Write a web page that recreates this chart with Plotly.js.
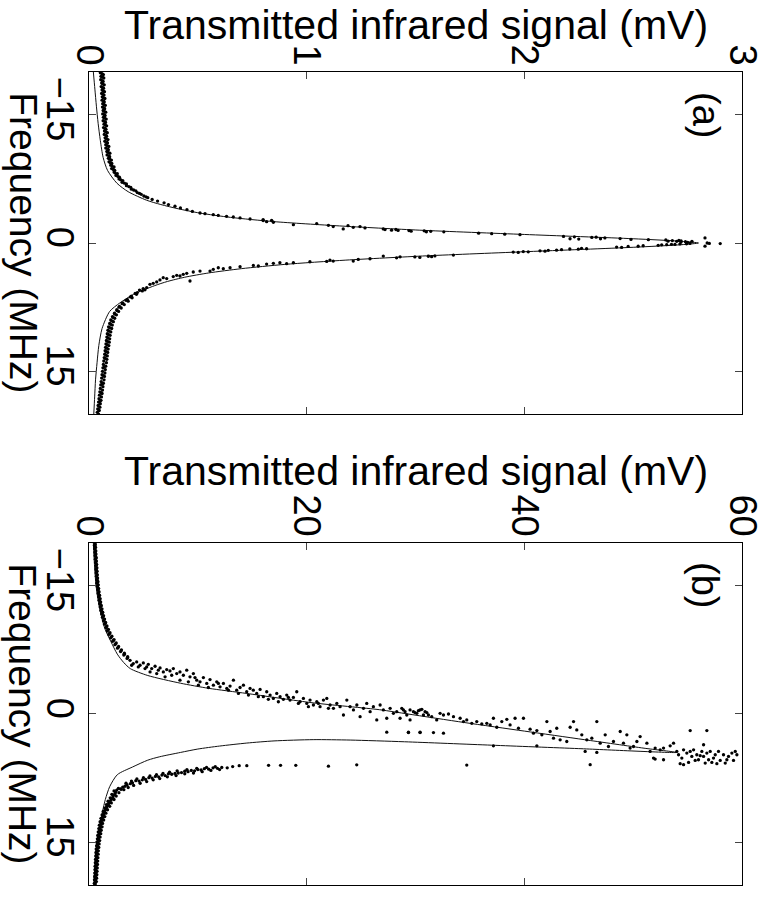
<!DOCTYPE html>
<html>
<head>
<meta charset="utf-8">
<script src="https://cdn.plot.ly/plotly-3.0.1.min.js"></script>
<style>html,body{margin:0;padding:0;background:#fff;}#chart{width:770px;height:897px;}</style>
</head>
<body>
<div id="chart"></div>
<script>
// ---------- Panel (a): frequency (MHz) and transmitted signal (mV) ----------
const aTopF = [-19.9,-19.7,-19.5,-19.3,-19.1,-18.9,-18.7,-18.5,-18.3,-18.1,-17.9,-17.7,-17.5,-17.3,-17.1,-16.9,-16.7,-16.5,-16.3,-16.1,-15.9,-15.7,-15.5,-15.3,-15.1,-14.9,-14.7,-14.5,-14.3,-14.1,-13.9,-13.7,-13.5,-13.3,-13.1,-12.9,-12.7,-12.5,-12.3,-12.1,-11.9,-11.7,-11.5,-11.3,-11.1,-10.9,-10.7,-10.5,-10.3,-10.1,-9.9,-9.7,-9.5,-9.3,-9.1,-8.9,-8.7,-8.5,-8.3,-8.1,-7.9,-7.7,-7.5,-7.3,-7.1,-6.9,-6.7,-6.5,-6.3,-6.1,-5.9,-5.7,-5.5,-5.3,-5.1,-4.9,-4.7,-4.5,-4.3,-4.1,-3.9,-3.7];
const aTopS = [0.052,0.066,0.055,0.068,0.054,0.065,0.058,0.070,0.056,0.067,0.060,0.071,0.058,0.069,0.061,0.073,0.060,0.070,0.063,0.075,0.062,0.072,0.065,0.077,0.063,0.074,0.066,0.079,0.065,0.076,0.069,0.081,0.067,0.078,0.071,0.084,0.070,0.081,0.074,0.087,0.073,0.085,0.077,0.091,0.077,0.089,0.082,0.096,0.083,0.095,0.089,0.103,0.092,0.105,0.100,0.115,0.104,0.118,0.115,0.130,0.124,0.140,0.138,0.155,0.152,0.172,0.172,0.192,0.195,0.215,0.222,0.240,0.252,0.270,0.290,0.315,0.345,0.365,0.395,0.420,0.450,0.475];
const aTop2F = [-19.8,-19.4,-19.0,-18.6,-18.2,-17.8,-17.4,-17.0,-16.6,-16.2,-15.8,-15.4,-15.0,-14.6,-14.2,-13.8,-13.4,-13.0,-12.6,-12.2,-11.8,-11.4,-11.0,-10.6,-10.2,-9.8,-9.4,-9.0,-8.6,-8.2,-7.8,-7.4,-7.0,-6.6,-6.2,-5.8,-5.4];
const aTop2S = [0.060,0.062,0.060,0.063,0.062,0.065,0.064,0.066,0.067,0.068,0.069,0.070,0.071,0.072,0.073,0.075,0.074,0.077,0.078,0.080,0.081,0.083,0.086,0.088,0.091,0.095,0.098,0.106,0.112,0.120,0.132,0.145,0.163,0.183,0.205,0.232,0.262];
const aRiseF = [-3.51,-3.43,-3.31,-3.23,-3.12,-3.04,-2.93,-2.81,-2.74,-2.62,-2.50,-2.65,-2.43,-2.15,-2.27,-2.07,-1.92,-1.65,-2.03,-1.84,-1.92,-1.77,-1.65,
  -1.57,-1.50,-1.58,-1.47,-1.46,-1.38,-1.42,-1.32,-1.37,-1.31,-1.15,-1.09,-1.03,-0.97,-0.77,-0.50,-0.72,-0.46,-0.65,-0.68,-0.50,-0.59,-0.52,-0.42,-0.39,-0.36,-0.22,-0.29,-0.20,-0.30,-0.12,-0.25,-0.16,-0.08,-0.20,
  -0.60,0.00,0.05,0.07,0.37];
const aRiseS = [0.510,0.533,0.571,0.594,0.632,0.663,0.694,0.740,0.800,0.800,0.816,0.839,0.847,0.939,1.046,1.100,1.122,1.168,1.190,1.214,1.245,1.268,1.352,
  1.36,1.39,1.41,1.42,1.47,1.48,1.54,1.55,1.57,1.63,1.79,1.85,1.91,1.98,2.18,2.21,2.23,2.25,2.31,2.33,2.35,2.37,2.44,2.49,2.57,2.65,2.66,2.68,2.70,2.71,2.72,2.72,2.74,2.75,2.77,
  2.83,2.84,2.85,2.90,2.83];
const aFallF = [0.05,0.09,0.11,0.16,0.15,0.20,0.21,0.27,0.32,0.38,0.40,0.52,0.47,0.67,0.62,0.72,0.70,0.78,0.84,0.86,0.95,0.91,1.03,1.00,1.10,1.06,1.41,1.51,1.60,1.55,1.68,1.63,1.62,1.73,
  1.53,1.84,1.92,2.11,2.11,2.00,2.15,2.19,2.31,2.42,2.31,2.38,2.46,2.69,2.62,2.77,2.89,3.00,2.89,3.08,3.28,3.28,3.39,3.55,3.66,3.86,3.78,3.93,4.16,4.05,4.32,4.55,4.71,4.83,5.21,5.48,5.33,4.44];
const aFallS = [2.761,2.745,2.715,2.692,2.676,2.654,2.631,2.615,2.546,2.523,2.477,2.447,2.424,2.286,2.263,2.248,2.209,2.171,2.148,2.110,2.095,2.072,2.018,1.995,1.972,1.949,1.674,1.589,1.574,1.559,1.520,1.497,1.429,1.413,
  1.352,1.291,1.237,1.214,1.122,1.107,1.092,1.015,0.939,0.908,0.877,0.847,0.816,0.778,0.755,0.694,0.648,0.617,0.594,0.571,0.556,0.510,0.479,0.449,0.433,0.418,0.403,0.387,0.357,0.341,0.326,0.311,0.295,0.280,0.265,0.257,0.249,0.464];
const aLowF = [5.6,5.8,6.0,6.2,6.4,6.6,6.8,7.0,7.2,7.4,7.6,7.8,8.0,8.2,8.4,8.6,8.8,9.0,9.2,9.4,9.6,9.8,10.0,10.2,10.4,10.6,10.8,11.0,11.2,11.4,11.6,11.8,12.0,12.2,12.4,12.6,12.8,13.0,13.2,13.4,13.6,13.8,14.0,14.2,14.4,14.6,14.8,15.0,15.2,15.4,15.6,15.8,16.0,16.2,16.4,16.6,16.8,17.0,17.2,17.4,17.6,17.8,18.0,18.2,18.4,18.6,18.8,19.0,19.2,19.4,19.6,19.8,20.0];
const aLowS = [0.245,0.222,0.218,0.195,0.198,0.176,0.180,0.155,0.162,0.140,0.148,0.128,0.136,0.117,0.126,0.108,0.118,0.100,0.112,0.095,0.107,0.090,0.104,0.087,0.100,0.084,0.097,0.082,0.095,0.080,0.093,0.078,0.091,0.076,0.088,0.074,0.086,0.072,0.084,0.070,0.082,0.068,0.080,0.066,0.077,0.064,0.075,0.062,0.073,0.060,0.071,0.058,0.069,0.056,0.066,0.054,0.064,0.052,0.062,0.050,0.060,0.048,0.057,0.046,0.055,0.044,0.052,0.042,0.050,0.040,0.047,0.038,0.044];
const aLow2F = [5.5,5.9,6.3,6.7,7.1,7.5,7.9,8.3,8.7,9.1,9.5,9.9,10.3,10.7,11.1,11.5,11.9,12.3,12.7,13.1,13.5,14.5,15.5,16.5,17.5,18.5,19.5];
const aLow2S = [0.232,0.212,0.190,0.170,0.152,0.138,0.128,0.118,0.110,0.104,0.099,0.095,0.092,0.089,0.087,0.085,0.083,0.081,0.079,0.077,0.075,0.070,0.066,0.060,0.056,0.050,0.045];
// fitted curve, panel (a)
const aFitF = [-20,-18,-16,-14,-12,-10,-8.5,-7,-6,-5,-4.5,-4,-3.5,-3,-2.5,-2,-1.5,-1,-0.5,-0.2,0,0.2,0.5,1,1.5,2,2.5,3,3.5,4,4.5,5,6,7,8,10,12,14,16,18,20];
const aFitS = [0.020,0.027,0.034,0.042,0.052,0.065,0.085,0.128,0.180,0.265,0.330,0.410,0.510,0.650,0.850,1.150,1.520,2.000,2.500,2.720,2.800,2.720,2.500,2.020,1.550,1.180,0.900,0.700,0.550,0.440,0.360,0.300,0.205,0.142,0.095,0.060,0.045,0.037,0.030,0.026,0.022];

// ---------- Panel (b) ----------
const bTopF = [-19.9,-19.7,-19.5,-19.3,-19.1,-18.9,-18.7,-18.5,-18.3,-18.1,-17.9,-17.7,-17.5,-17.3,-17.1,-16.9,-16.7,-16.5,-16.3,-16.1,-15.9,-15.7,-15.5,-15.3,-15.1,-14.9,-14.7,-14.5,-14.3,-14.1,-13.9,-13.7,-13.5,-13.3,-13.1,-12.9,-12.7,-12.5,-12.3,-12.1,-11.9,-11.7,-11.5,-11.3,-11.1,-10.9,-10.7,-10.5,-10.3,-10.1,-9.9,-9.7,-9.5,-9.3,-9.1,-8.9,-8.7,-8.5,-8.3,-8.1,-7.9,-7.7,-7.5,-7.3,-7.1,-6.9,-6.7,-6.5];
const bTopS = [0.55,0.50,0.60,0.52,0.62,0.55,0.64,0.56,0.66,0.58,0.68,0.60,0.70,0.62,0.72,0.64,0.74,0.66,0.76,0.68,0.79,0.70,0.82,0.72,0.85,0.76,0.88,0.80,0.92,0.84,0.97,0.88,1.02,0.93,1.07,0.98,1.13,1.03,1.19,1.09,1.26,1.16,1.34,1.24,1.43,1.33,1.53,1.43,1.65,1.55,1.78,1.68,1.93,1.82,2.10,1.98,2.30,2.17,2.50,2.38,2.72,2.62,2.98,2.90,3.25,3.20,3.55,3.50];
const bTop2F = [-19.8,-19.4,-19.0,-18.6,-18.2,-17.8,-17.4,-17.0,-16.6,-16.2,-15.8,-15.4,-15.0,-14.6,-14.2,-13.8,-13.4,-13.0,-12.6,-12.2,-11.8,-11.4,-11.0,-10.6,-10.2,-9.8,-9.4,-9.0,-8.6,-8.2,-7.8,-7.4,-7.0,-6.6];
const bTop2S = [0.58,0.56,0.60,0.60,0.63,0.64,0.66,0.69,0.70,0.73,0.75,0.78,0.80,0.84,0.88,0.93,0.98,1.03,1.08,1.15,1.22,1.30,1.38,1.48,1.60,1.72,1.88,2.05,2.25,2.45,2.68,2.95,3.25,3.55];
const bRiseF = [-6.28,-5.89,-6.09,-5.70,-5.97,-5.50,-5.81,-5.31,-5.58,-5.12,-5.39,-4.92,-5.19,-5.04,-5.31,-4.73,-4.92,-4.53,-5.12,-4.34,-4.73,-3.95,-3.76,-4.26,-3.57,-4.03,-3.37,-3.76,-3.18,-3.57,-2.99,-3.26,-3.95,-2.79,-3.10,-3.37,-2.60,-2.99,-2.79,-2.40,-2.87,-2.02,-2.60,-2.21,-1.82,-2.40,-2.02,-1.71,-2.21,-1.63,-1.94,-2.60,-1.43,-1.82,-1.24,-1.63,-1.05,-1.43,-0.85,-1.63,-1.82,-1.05,-0.66,-1.24,-0.85,0.12,-1.63,-0.85,-0.47,-1.05,0.31,-0.66,-1.24,-0.27,-0.85,0.70,-1.05,-0.47,0.50,-0.66,-0.08,-0.27,0.50,-0.47,0.12,0.70,-0.27,-0.08,-0.47,0.12,-0.16,
  2.13,2.13,2.13,
  -5.70,-5.50,-5.31,-4.92,-4.73,-4.34,-4.53,-3.95,-3.76,-4.26,-3.37,-3.10,-3.57,-2.79,-2.40,-2.21,-2.02,-1.71,-1.43,-1.94,-1.24,-0.85,-1.24,-0.66];
const bRiseS = [3.77,4.07,4.38,4.69,4.99,5.30,5.45,5.76,6.07,6.37,6.53,6.83,7.14,7.44,7.75,8.06,8.36,8.67,8.98,9.28,9.59,9.90,10.20,10.51,10.82,11.12,11.43,11.74,12.04,12.35,12.66,12.96,13.27,13.57,13.88,14.19,14.49,14.80,15.10,15.41,15.72,16.02,16.33,16.64,16.94,17.25,17.56,17.86,18.17,18.47,18.78,19.09,19.39,19.70,20.01,20.31,20.62,20.93,21.23,21.54,21.85,22.15,22.46,22.77,23.07,23.38,23.69,23.99,24.30,24.61,24.91,25.22,25.52,25.83,26.13,26.44,26.75,27.05,27.36,27.67,27.97,28.28,28.58,28.89,29.20,29.50,29.81,30.12,30.42,30.73,31.04,
  27.36,29.35,30.42,
  3.92,4.53,5.15,5.61,6.22,6.99,7.60,8.36,9.13,9.74,10.05,10.97,11.89,12.81,13.73,14.65,15.56,16.48,17.40,18.32,19.24,20.16,21.08,22.00];
const bPeakF = [-0.66,-0.27,-0.47,-0.16,-0.39,-0.54,-0.27,0.12,0.31,0.70,-0.08,0.12,0.00,0.31,0.50,0.89,0.70,1.09,0.89,1.16,1.09,1.28,0.50,1.55,0.89,0.62,1.28,0.50,1.67,0.50,1.78,2.25,1.94,2.44,0.89,2.05,2.83,1.67,3.02,3.22,1.55,0.89,1.86,2.44,3.02,2.83,0.89,3.41,2.44,3.80,3.22,2.05,3.41,2.44,3.99,3.80,3.22,2.64,3.41,4.38,3.99,4.19,3.99,3.72,3.41,4.38,
  2.17,2.17,2.17,2.25,3.72,3.72,4.38,4.50,5.16,5.35,5.27,
  4.77,5.16,4.19,4.57,5.66,4.96,4.19,4.77,5.35,4.38,4.96,5.74,4.57,5.35,4.38,5.66,4.77,4.38,5.43,4.77,5.74,4.96,4.57,5.43,4.38,5.81,5.93,1.94,1.94,3.60,5.16,4.88,5.81,5.35,4.77,4.38,5.43];
const bPeakS = [28.74,29.04,29.50,29.96,30.27,30.58,30.88,31.19,31.49,31.95,32.26,32.57,33.03,33.49,34.10,34.41,34.71,35.17,35.63,36.09,36.55,36.86,37.16,37.47,37.93,38.39,38.69,39.15,39.46,39.92,40.53,40.84,41.15,41.61,42.07,42.37,42.68,42.98,43.29,43.90,44.21,44.52,44.82,45.28,45.74,46.20,46.66,46.97,47.43,47.73,48.19,48.81,49.11,49.42,49.72,50.03,50.34,50.64,51.26,51.56,52.02,52.48,52.79,53.40,53.71,54.01,
  29.35,30.42,31.65,32.57,37.16,41.15,45.59,46.66,51.87,52.79,52.02,
  54.17,54.47,54.63,54.93,55.09,55.39,55.55,55.85,56.00,56.31,56.47,56.62,56.77,56.93,57.08,57.23,57.54,57.84,58.00,58.30,58.46,58.76,59.07,59.22,59.38,54.32,54.63,55.24,56.77,56.47,57.38,56.16,57.69,58.61,59.53,55.24,55.70];
const bJumpF = [5.97,5.93,5.95,6.10,6.00,6.00,6.00,6.05,6.05,6.15,6.30];
const bJumpS = [34.71,46.05,24.60,22.00,19.00,17.60,16.50,14.50,13.80,13.20,12.70];
const bLowF = [6.25,6.35,6.30,6.45,6.40,6.55,6.50,6.65,6.60,6.75,6.70,6.85,6.90,6.95,7.05,7.00,7.20,7.15,7.35,7.30,7.50,7.45,7.65,7.70,7.85,7.80,8.05,8.15,8.30,8.45,8.55,8.75,
  6.50,6.60,6.75,6.90,7.00,7.20,7.35,7.55,7.70,7.90,8.10,8.35,8.60,8.85,
  6.15,6.25,6.35,6.50,6.65,6.80,6.95,7.10,7.25,7.45,7.60,7.85,8.10];
const bLowS = [12.2,11.8,11.4,11.0,10.6,10.3,10.0,9.7,9.4,9.1,8.8,8.5,8.2,7.9,7.6,7.3,7.0,6.7,6.4,6.1,5.8,5.5,5.2,4.9,4.6,4.3,4.0,3.8,3.5,3.3,3.1,2.9,
  12.0,11.2,10.4,9.6,8.8,8.0,7.2,6.5,5.9,5.3,4.7,4.1,3.6,3.2,
  11.6,10.8,9.9,9.0,8.1,7.4,6.8,6.2,5.6,5.0,4.4,3.9,3.4];
const bTailF = [8.7,8.9,9.1,9.3,9.5,9.7,9.9,10.1,10.3,10.5,10.7,10.9,11.1,11.3,11.5,11.7,11.9,12.1,12.3,12.5,12.7,12.9,13.1,13.3,13.5,13.7,13.9,14.1,14.3,14.5,14.7,14.9,15.1,15.3,15.5,15.7,15.9,16.1,16.3,16.5,16.7,16.9,17.1,17.3,17.5,17.7,17.9,18.1,18.3,18.5,18.7,18.9,19.1,19.3,19.5,19.7,19.9];
const bTailS = [2.70,2.55,2.45,2.40,2.25,2.20,2.10,2.00,1.85,1.80,1.70,1.60,1.55,1.45,1.40,1.35,1.30,1.25,1.20,1.15,1.12,1.08,1.05,1.02,1.00,0.97,0.95,0.92,0.90,0.87,0.85,0.83,0.80,0.78,0.76,0.74,0.72,0.71,0.70,0.69,0.68,0.67,0.66,0.65,0.64,0.63,0.62,0.61,0.60,0.60,0.59,0.58,0.57,0.56,0.56,0.55,0.54];
const bTail2F = [8.8,9.0,9.2,9.4,9.6,9.8,10.0,10.2,10.4,10.6,10.8,11.0,11.2,11.4,11.6,11.8,12.0,12.2,12.4,12.6,12.8,13.0,13.2,13.4,13.6,13.8,14.0,14.2,14.4,14.6,14.8,15.0,15.2,15.4,15.6,15.8,16.0,16.2,16.4,16.6,16.8,17.0,17.2,17.4,17.6,17.8,18.0,18.2,18.4,18.6,18.8,19.0,19.2,19.4,19.6,19.8];
const bTail2S = [2.95,2.30,2.75,2.10,2.50,1.95,2.30,1.75,2.05,1.60,1.90,1.45,1.70,1.30,1.55,1.20,1.45,1.10,1.35,1.02,1.25,0.95,1.20,0.90,1.12,0.85,1.08,0.80,1.02,0.77,0.98,0.72,0.93,0.70,0.90,0.66,0.86,0.64,0.84,0.62,0.82,0.60,0.80,0.58,0.78,0.56,0.76,0.55,0.74,0.53,0.72,0.52,0.70,0.50,0.68,0.49];
// fitted curve, panel (b): upper branch then returning lower branch
const bFitF = [-20,-17.5,-15,-12.5,-10,-8.5,-7,-6,-5.3,-4.5,-3.6,-3,-2.4,-1.3,-0.5,0,1,2,3,4,4.5,4.05,3.65,3.25,3.05,3.0,3.15,3.4,3.75,4.1,4.5,5.0,5.4,6.2,7.1,8.5,10,12,13.5,16,19.3,20];
const bFitS = [0.40,0.50,0.65,0.95,1.45,2.00,2.60,3.20,3.80,5.40,8.40,11.0,14.5,20.6,26.7,29.3,34.5,40.0,45.5,51.0,54.0,45.0,37.0,29.0,24.0,20.6,17.0,14.5,12.0,10.0,8.4,6.5,5.4,4.0,2.6,1.9,1.5,1.15,1.0,0.8,0.7,0.65];

// ---------- tick labels ----------
const sigTicksA = [0, 1, 2, 3];
const sigTicksB = [0, 20, 40, 60];
const freqTicks = [-15, 0, 15];

const FONT = 'Liberation Sans, Arial, Helvetica, sans-serif';
function dots(xs, ys, xa, ya) {
  return {x: xs, y: ys, xaxis: xa, yaxis: ya, type: 'scatter', mode: 'markers',
    marker: {color: 'black', size: 3.3, line: {width: 0}}, hoverinfo: 'skip'};
}
function fit(xs, ys, xa, ya) {
  return {x: xs, y: ys, xaxis: xa, yaxis: ya, type: 'scatter', mode: 'lines',
    line: {color: '#111', width: 1, shape: 'spline', smoothing: 0.7}, hoverinfo: 'skip'};
}
const data = [
  fit(aFitS, aFitF, 'x', 'y'),
  dots(aTopS.concat(aTop2S, aRiseS, aFallS, aLowS, aLow2S), aTopF.concat(aTop2F, aRiseF, aFallF, aLowF, aLow2F), 'x', 'y'),
  fit(bFitS, bFitF, 'x2', 'y2'),
  dots(bTopS.concat(bTop2S, bRiseS, bPeakS, bJumpS, bLowS, bTailS, bTail2S), bTopF.concat(bTop2F, bRiseF, bPeakF, bJumpF, bLowF, bTailF, bTail2F), 'x2', 'y2')
];

function xAxis(range, ticks, anchor) {
  return {domain: [0, 1], anchor: anchor, side: 'top', range: range, tickvals: ticks,
    ticks: 'inside', ticklen: 7, tickwidth: 1, tickcolor: '#444', tickangle: 90,
    ticklabelstandoff: -8,
    tickfont: {family: FONT, size: 38, color: 'black'},
    showline: true, linecolor: 'black', linewidth: 1, mirror: 'ticks',
    showgrid: false, zeroline: false, fixedrange: true};
}
function yAxis(domain, anchor) {
  return {domain: domain, anchor: anchor, range: [20, -20], tickvals: freqTicks,
    ticks: 'inside', ticklen: 7, tickwidth: 1, tickcolor: '#444', tickangle: 90,
    ticklabelstandoff: -5,
    tickfont: {family: FONT, size: 38, color: 'black'},
    showline: true, linecolor: 'black', linewidth: 1, mirror: 'ticks',
    showgrid: false, zeroline: false, fixedrange: true};
}
const ann = [
  {text: 'Transmitted infrared signal (mV)', xref: 'paper', yref: 'paper', x: 0.5, y: 1.0578, xanchor: 'center', yanchor: 'middle', showarrow: false, font: {family: FONT, size: 41, color: 'black'}},
  {text: 'Transmitted infrared signal (mV)', xref: 'paper', yref: 'paper', x: 0.5, y: 0.5092, xanchor: 'center', yanchor: 'middle', showarrow: false, font: {family: FONT, size: 41, color: 'black'}},
  {text: 'Frequency (MHz)', xref: 'paper', yref: 'paper', x: -0.1015, y: 0.7897, xanchor: 'center', yanchor: 'middle', textangle: 90, borderpad: 0, showarrow: false, font: {family: FONT, size: 39, color: 'black'}},
  {text: 'Frequency (MHz)', xref: 'paper', yref: 'paper', x: -0.1015, y: 0.2103, xanchor: 'center', yanchor: 'middle', textangle: 90, borderpad: 0, showarrow: false, font: {family: FONT, size: 39, color: 'black'}},
  {text: '(a)', xref: 'paper', yref: 'paper', x: 0.9449, y: 0.9471, xanchor: 'center', yanchor: 'middle', textangle: 90, showarrow: false, font: {family: FONT, size: 38, color: 'black'}},
  {text: '(b)', xref: 'paper', yref: 'paper', x: 0.9433, y: 0.369, xanchor: 'center', yanchor: 'middle', textangle: 90, showarrow: false, font: {family: FONT, size: 38, color: 'black'}}
];
const layout = {
  width: 770, height: 897,
  margin: {l: 89, r: 28, t: 72, b: 12, pad: 0},
  paper_bgcolor: 'white', plot_bgcolor: 'white',
  showlegend: false,
  font: {family: FONT, size: 38, color: 'black'},
  xaxis: xAxis([0, 3], sigTicksA, 'y'),
  yaxis: yAxis([0.5793, 1], 'x'),
  xaxis2: xAxis([0, 60], sigTicksB, 'y2'),
  yaxis2: yAxis([0, 0.4207], 'x2'),
  annotations: ann
};
Plotly.newPlot('chart', data, layout, {staticPlot: true, displayModeBar: false});
</script>
</body>
</html>
